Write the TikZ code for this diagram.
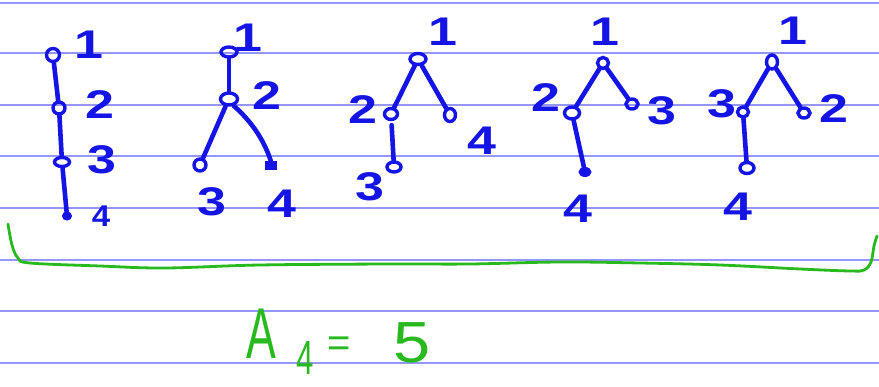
\documentclass[tikz,border=0pt]{standalone}
\usepackage{fontspec}
\setmainfont{Liberation Sans}
\usetikzlibrary{shapes.geometric}
\definecolor{ink}{RGB}{20,20,230}
\definecolor{grn}{RGB}{40,185,30}
\definecolor{rulec}{RGB}{150,150,250}
\tikzset{
  ruled/.style={draw=rulec, line width=1.8pt},
  vert/.style={ellipse, draw=ink, line width=3.4pt, minimum width=13pt, minimum height=11pt, inner sep=0pt},
  vdot/.style={ellipse, fill=ink, draw=ink, line width=1pt, minimum width=9pt, minimum height=8pt, inner sep=0pt},
  edgeline/.style={draw=ink, line width=4.6pt, line cap=round},
  lbl/.style={text=ink, inner sep=0pt, font=\fontsize{40}{40}\selectfont\bfseries, xscale=1.3},
  slbl/.style={text=ink, inner sep=0pt, font=\fontsize{30}{30}\selectfont\bfseries, xscale=1.1},
  gtext/.style={text=grn, inner sep=0pt},
  bracestyle/.style={draw=grn, line width=2.8pt, line cap=round, line join=round}
}
\begin{document}
\begin{tikzpicture}[x=1pt,y=-1pt]
\useasboundingbox (0,0) rectangle (879,387);
\fill[white] (0,0) rectangle (879,387);
% ruled paper
\foreach \yy in {3,53,105,156,208,260,311,363}
  \draw[ruled] (0,\yy) -- (879,\yy);

% ---- tree 1 (path)
\node[vert, minimum width=13pt, minimum height=13pt] (t1n1) at (53,55) {};
\node[vert, minimum width=12pt, minimum height=12pt] (t1n2) at (59,108) {};
\node[vert, minimum width=15pt, minimum height=9pt] (t1n3) at (62,162) {};
\node[vdot] (t1n4) at (67,216) {};
\draw[edgeline] (t1n1) -- (t1n2);
\draw[edgeline] (t1n2) -- (t1n3);
\draw[edgeline] (t1n3) -- (t1n4);
\node[lbl] (t1l1) at (89,45) {1};
\node[lbl] (t1l2) at (100,105) {2};
\node[lbl] (t1l3) at (102,160) {3};
\node[slbl] (t1l4) at (101,216) {4};

% ---- tree 2
\node[vert, minimum width=16pt, minimum height=10pt] (t2n1) at (229,52) {};
\node[vert, minimum width=17pt, minimum height=12pt] (t2n2) at (229,99) {};
\node[vert, minimum width=12pt, minimum height=12pt] (t2n3) at (200,165) {};
\node[vdot, rectangle, minimum width=11pt, minimum height=8pt] (t2n4) at (271,166) {};
\draw[edgeline] (t2n1) -- (t2n2);
\draw[edgeline] (t2n2.-115) -- (t2n3);
\draw[edgeline] (t2n2.-55) .. controls (252,122) and (264,140) .. (t2n4.north);
\node[lbl] (t2l1) at (248,38) {1};
\node[lbl] (t2l2) at (267,96) {2};
\node[lbl] (t2l3) at (212,202) {3};
\node[lbl] (t2l4) at (282,204) {4};

% ---- tree 3
\node[vert, minimum width=16pt, minimum height=11pt] (t3n1) at (418,59) {};
\node[vert, minimum width=13pt, minimum height=11pt] (t3n2) at (391,114) {};
\node[vert, minimum width=11pt, minimum height=13pt] (t3n4) at (450,115) {};
\node[vert, minimum width=14pt, minimum height=10pt] (t3n3) at (394,167) {};
\draw[edgeline] (t3n1) -- (t3n2);
\draw[edgeline] (t3n1) -- (t3n4);
\draw[edgeline, shorten <=4pt] (t3n2) -- (t3n3);
\node[lbl] (t3l1) at (443,32) {1};
\node[lbl] (t3l2) at (363,110) {2};
\node[lbl] (t3l4) at (482,141) {4};
\node[lbl] (t3l3) at (370,187) {3};

% ---- tree 4
\node[vert, minimum width=11pt, minimum height=11pt] (t4n1) at (603,63) {};
\node[vert, minimum width=15pt, minimum height=12pt] (t4n2) at (572,113) {};
\node[vert, minimum width=12pt, minimum height=10pt] (t4n3) at (632,104) {};
\node[vdot, minimum width=12pt, minimum height=9pt] (t4n4) at (585,172) {};
\draw[edgeline] (t4n1) -- (t4n2);
\draw[edgeline] (t4n1) -- (t4n3);
\draw[edgeline] (t4n2) -- (t4n4);
\node[lbl] (t4l1) at (605,32) {1};
\node[lbl] (t4l2) at (546,98) {2};
\node[lbl] (t4l3) at (662,111) {3};
\node[lbl] (t4l4) at (578,209) {4};

% ---- tree 5
\node[vert, minimum width=11pt, minimum height=14pt] (t5n1) at (772,62) {};
\node[vert, minimum width=11pt, minimum height=10pt] (t5n3) at (743,112) {};
\node[vert, minimum width=12pt, minimum height=10pt] (t5n2) at (804,113) {};
\node[vert, minimum width=14pt, minimum height=11pt] (t5n4) at (747,168) {};
\draw[edgeline] (t5n1) -- (t5n3);
\draw[edgeline] (t5n1) -- (t5n2);
\draw[edgeline] (t5n3) -- (t5n4);
\node[lbl] (t5l1) at (793,31) {1};
\node[lbl] (t5l3) at (722,104) {3};
\node[lbl] (t5l2) at (834,109) {2};
\node[lbl] (t5l4) at (738,207) {4};

% ---- green brace
\draw[bracestyle] plot[smooth, tension=0.6] coordinates {
  (8,224) (12,245) (18,258) (30,263) (100,266) (165,268) (260,265)
  (390,264) (470,264) (560,262) (640,263) (720,265) (800,269)
  (850,271) (864,270) (871,262) (874,246) (877,236)};

% ---- A_4 = 5
\node[gtext, font=\fontsize{72}{72}\selectfont, xscale=0.62] (gA) at (261,334) {A};
\node[gtext, font=\fontsize{48}{48}\selectfont, xscale=0.65] (gsub) at (305,358) {4};
\node[gtext, font=\fontsize{40}{40}\selectfont] (geq) at (339,347) {=};
\node[gtext, font=\fontsize{58}{58}\selectfont, xscale=1.15] (gfive) at (412,343) {5};
\end{tikzpicture}
\end{document}
